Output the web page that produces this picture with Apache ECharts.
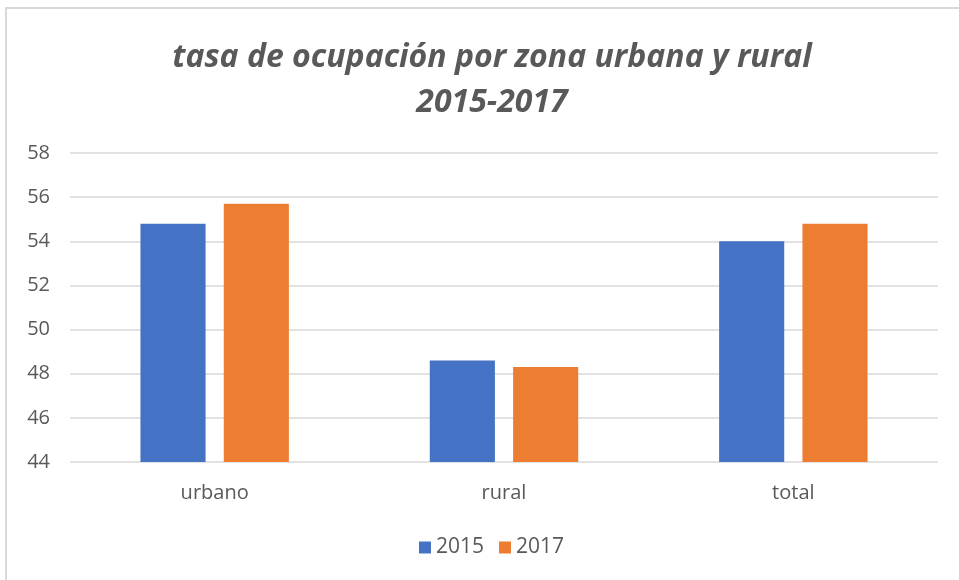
<!DOCTYPE html>
<html>
<head>
<meta charset="utf-8">
<script src="https://cdn.jsdelivr.net/npm/echarts@6/dist/echarts.min.js"></script>
<style>
  html, body { margin: 0; padding: 0; background: #fff; overflow: hidden; }
  #main { width: 959px; height: 580px; position: relative; }
  .frame {
    position: absolute; left: 5px; top: 7px; width: 1000px; height: 1000px;
    border: 2px solid #d9d9d9; box-sizing: border-box; pointer-events: none;
  }
</style>
</head>
<body>
<div id="main"></div>
<div class="frame"></div>
<script>
const categories = ["urbano", "rural", "total"];
const seriesNames = ["2015", "2017"];
const values2015 = [54.8, 48.6, 54.0];
const values2017 = [55.7, 48.3, 54.8];
const yTicks = [44, 46, 48, 50, 52, 54, 56, 58];

const textColor = "#595959";
const gridColor = "#d9d9d9";
const font = "'Open Sans', 'Noto Sans', sans-serif";

let myChart = echarts.init(document.getElementById("main"), null, { renderer: "canvas" });

let option = {
  animation: false,
  color: ["#4472C4", "#ED7D31"],
  title: {
    text: "tasa de ocupación por zona urbana y rural\n2015-2017",
    left: 487,
    textAlign: "center",
    top: 30,
    textStyle: {
      color: textColor,
      fontFamily: font,
      fontStyle: "italic",
      fontWeight: "bold",
      fontSize: 32,
      lineHeight: 45,
    },
  },
  grid: {
    left: 70,
    right: 21,
    top: 153,
    bottom: 118,
  },
  legend: {
    data: seriesNames,
    bottom: 17,
    left: 414,
    itemWidth: 12,
    itemHeight: 12,
    itemGap: 15,
    icon: "rect",
    textStyle: { color: textColor, fontFamily: font, fontSize: 21 },
  },
  xAxis: {
    type: "category",
    data: categories,
    axisLine: { show: false },
    axisTick: { show: false },
    axisLabel: {
      color: textColor,
      fontFamily: font,
      fontSize: 20,
      margin: 21,
    },
  },
  yAxis: {
    type: "value",
    min: yTicks[0],
    max: yTicks[yTicks.length - 1],
    interval: 2,
    axisLine: { show: false },
    axisTick: { show: false },
    axisLabel: {
      color: textColor,
      fontFamily: font,
      fontSize: 20,
      margin: 20,
    },
    splitLine: {
      show: true,
      lineStyle: { color: gridColor, width: 1.5 },
    },
  },
  series: [
    {
      name: seriesNames[0],
      type: "bar",
      data: values2015,
      barWidth: "22.5%",
      barGap: "28%",
    },
    {
      name: seriesNames[1],
      type: "bar",
      data: values2017,
      barWidth: "22.5%",
      barGap: "28%",
    },
  ],
};

myChart.setOption(option);
</script>
</body>
</html>
